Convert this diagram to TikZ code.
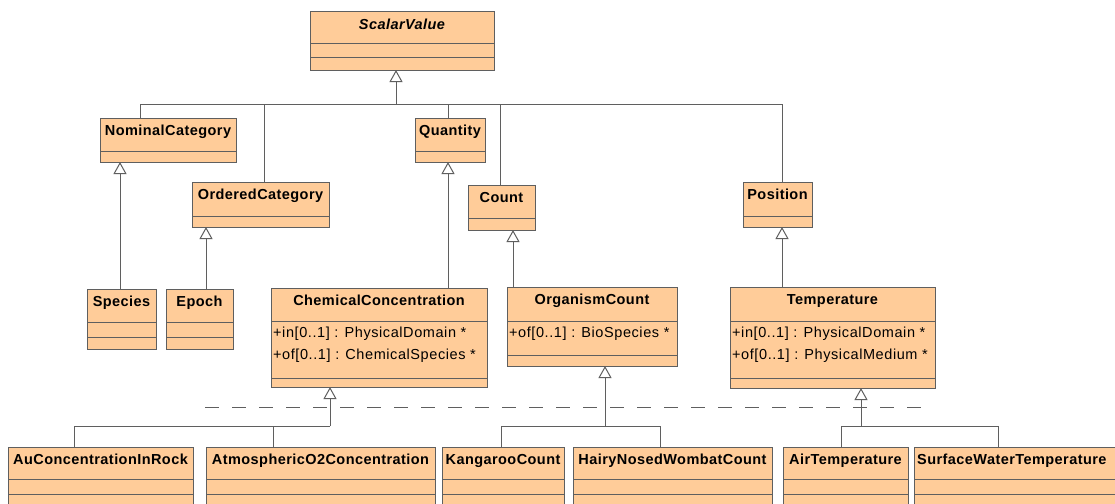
\documentclass[tikz,border=0pt]{standalone}
\usepackage{fontspec}
\setmainfont{Liberation Sans}[LetterSpace=3]
\newfontfamily\attrfont{Liberation Sans}[LetterSpace=4]
\usetikzlibrary{arrows.meta}
\definecolor{peach}{HTML}{FFCC99}
\definecolor{edge}{HTML}{5F5F5F}

\tikzset{
  cls/.style={draw=edge, fill=peach, line width=1pt, rectangle, inner sep=0pt,
    outer sep=0pt, anchor=north west},
  ttl/.style={font=\fontsize{14.5}{16}\selectfont\bfseries, inner sep=0pt},
  attr/.style={font=\fontsize{14.5}{16}\selectfont\attrfont, anchor=base west, inner sep=0pt},
  sepline/.style={draw=edge, line width=1pt},
  link/.style={draw=edge, line width=1pt},
  gen/.style={link, -{Triangle[open, width=13pt, length=12pt, fill=white, line width=1pt]}},
  guide/.style={draw=edge, line width=1pt, dash pattern=on 14pt off 13pt},
}

% class box: name, x, y (top left), width, height, title (centred)
\newcommand{\umlclass}[6]{%
  \node[cls, minimum width=#4pt, minimum height=#5pt] (#1) at (#2,#3) {};
  \node[ttl, anchor=base] (#1-name) at ([yshift=-17.5pt]#1.north) {#6};
}
% class box whose title starts at the left edge
\newcommand{\umlclassL}[6]{%
  \node[cls, minimum width=#4pt, minimum height=#5pt] (#1) at (#2,#3) {};
  \node[ttl, anchor=base west] (#1-name) at ([yshift=-17.5pt, xshift=3pt]#1.north west) {#6};
}
% horizontal compartment divider, #2 below the top edge
\newcommand{\compart}[2]{%
  \draw[sepline] ([yshift=-#2pt]#1.north west) -- ([yshift=-#2pt]#1.north east);
}
% attribute line, baseline #3 below the top edge
\newcommand{\attrib}[4]{%
  \node[attr] (#1-#2) at ([yshift=-#3pt, xshift=2pt]#1.north west) {#4};
}

\begin{document}
\begin{tikzpicture}[x=1pt, y=-1pt]
  \useasboundingbox (0,0) rectangle (1115,503);
  \fill[white] (0,0) rectangle (1115,503);
  \clip (0,0) rectangle (1115,503);

  % ---------- classes ----------
  \umlclass{ScalarValue}{310}{12}{184}{58}{\itshape ScalarValue}
  \compart{ScalarValue}{32}\compart{ScalarValue}{46}

  \umlclass{NominalCategory}{100}{118}{136}{44}{NominalCategory}
  \compart{NominalCategory}{33}
  \umlclass{OrderedCategory}{192}{182}{137}{45}{OrderedCategory}
  \compart{OrderedCategory}{34}
  \umlclass{Quantity}{415}{118}{70}{44}{Quantity}
  \compart{Quantity}{33}
  \umlclass{Count}{468}{185}{67}{45}{Count}
  \compart{Count}{33}
  \umlclass{Position}{743}{182}{69}{45}{Position}
  \compart{Position}{34}

  \umlclass{Species}{87}{289}{69}{60}{Species}
  \compart{Species}{33}\compart{Species}{48}
  \umlclass{Epoch}{166}{289}{67}{60}{Epoch}
  \compart{Epoch}{33}\compart{Epoch}{48}

  \umlclass{ChemicalConcentration}{271}{288}{216}{99}{ChemicalConcentration}
  \compart{ChemicalConcentration}{33}\compart{ChemicalConcentration}{90}
  \attrib{ChemicalConcentration}{a1}{49}{+in[0..1] : PhysicalDomain *}
  \attrib{ChemicalConcentration}{a2}{71}{+of[0..1] : ChemicalSpecies *}

  \umlclass{OrganismCount}{507}{287}{170}{79}{OrganismCount}
  \compart{OrganismCount}{34}\compart{OrganismCount}{68}
  \attrib{OrganismCount}{a1}{50}{+of[0..1] : BioSpecies *}

  \umlclass{Temperature}{730}{287}{205}{101}{Temperature}
  \compart{Temperature}{34}\compart{Temperature}{91}
  \attrib{Temperature}{a1}{50}{+in[0..1] : PhysicalDomain *}
  \attrib{Temperature}{a2}{72}{+of[0..1] : PhysicalMedium *}

  \umlclass{AuConcentrationInRock}{8}{447}{185}{70}{AuConcentrationInRock}
  \umlclass{AtmosphericO2Concentration}{206}{447}{229}{70}{AtmosphericO2Concentration}
  \umlclass{KangarooCount}{442}{447}{122}{70}{KangarooCount}
  \umlclass{HairyNosedWombatCount}{573}{447}{199}{70}{HairyNosedWombatCount}
  \umlclass{AirTemperature}{783}{447}{125}{70}{AirTemperature}
  \umlclassL{SurfaceWaterTemperature}{914}{447}{220}{70}{SurfaceWaterTemperature}
  \foreach \c in {AuConcentrationInRock,AtmosphericO2Concentration,KangarooCount,
                  HairyNosedWombatCount,AirTemperature,SurfaceWaterTemperature}
    {\compart{\c}{32}\compart{\c}{47}}

  % ---------- generalisation: ScalarValue ----------
  \coordinate (sv-bus) at (396,104);
  \coordinate (nc-up) at ([xshift=40pt]NominalCategory.north west);
  \coordinate (oc-up) at ([xshift=72pt]OrderedCategory.north west);
  \coordinate (qt-up) at ([xshift=33pt]Quantity.north west);
  \coordinate (ct-up) at ([xshift=32pt]Count.north west);
  \coordinate (ps-up) at ([xshift=39pt]Position.north west);
  \foreach \u in {nc-up,oc-up,qt-up,ct-up,ps-up}
    \draw[link] (\u) |- (sv-bus);
  \draw[gen] (sv-bus) -- (sv-bus |- ScalarValue.south);

  % ---------- single-child generalisations ----------
  \coordinate (sp-up) at ([xshift=33pt]Species.north west);
  \draw[gen] (sp-up) -- (sp-up |- NominalCategory.south);
  \coordinate (ep-up) at ([xshift=40pt]Epoch.north west);
  \draw[gen] (ep-up) -- (ep-up |- OrderedCategory.south);
  \coordinate (cc-up) at ([xshift=177pt]ChemicalConcentration.north west);
  \draw[gen] (cc-up) -- (cc-up |- Quantity.south);
  \coordinate (oc2-up) at ([xshift=6pt]OrganismCount.north west);
  \draw[gen] (oc2-up) -- (oc2-up |- Count.south);
  \coordinate (tp-up) at ([xshift=52pt]Temperature.north west);
  \draw[gen] (tp-up) -- (tp-up |- Position.south);

  % ---------- separator between abstract and concrete classes ----------
  \coordinate (guide-l) at (205,407);
  \coordinate (guide-r) at (925,407);
  \draw[guide] (guide-l) -- (guide-r);

  % ---------- generalisation: concrete classes ----------
  \coordinate (cc-bus) at (330,426);
  \coordinate (au-up) at ([xshift=66pt]AuConcentrationInRock.north west);
  \coordinate (o2-up) at ([xshift=67pt]AtmosphericO2Concentration.north west);
  \draw[link] (au-up) |- (cc-bus);
  \draw[link] (o2-up) |- (cc-bus);
  \draw[gen] (cc-bus) -- (cc-bus |- ChemicalConcentration.south);

  \coordinate (og-bus) at (605,426);
  \coordinate (kg-up) at ([xshift=59pt]KangarooCount.north west);
  \coordinate (hw-up) at ([xshift=87pt]HairyNosedWombatCount.north west);
  \draw[link] (kg-up) |- (og-bus);
  \draw[link] (hw-up) |- (og-bus);
  \draw[gen] (og-bus) -- (og-bus |- OrganismCount.south);

  \coordinate (tp-bus) at (861,426);
  \coordinate (at-up) at ([xshift=58pt]AirTemperature.north west);
  \coordinate (sw-up) at ([xshift=84pt]SurfaceWaterTemperature.north west);
  \draw[link] (at-up) |- (tp-bus);
  \draw[link] (sw-up) |- (tp-bus);
  \draw[gen] (tp-bus) -- (tp-bus |- Temperature.south);
\end{tikzpicture}
\end{document}
